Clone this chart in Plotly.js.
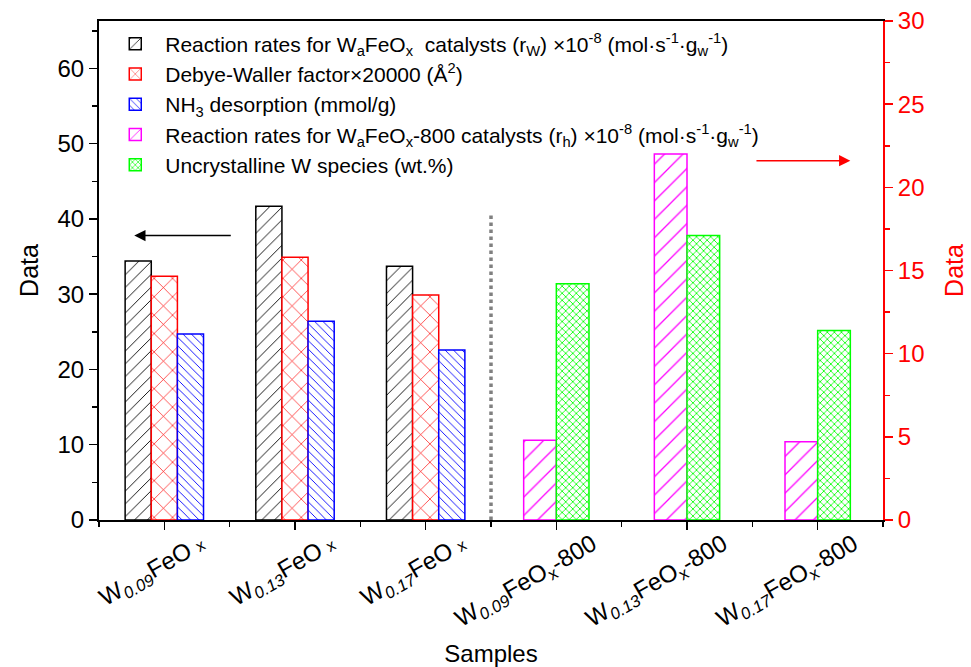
<!DOCTYPE html>
<html>
<head>
<meta charset="utf-8">
<script src="https://cdn.plot.ly/plotly-3.0.1.min.js"></script>
<style>html,body{margin:0;padding:0;background:#fff;}#chart{width:971px;height:667px;}</style>
</head>
<body>
<div id="chart"></div>
<script>
// ---- data ----
const categories = ['W0.09FeOx', 'W0.13FeOx', 'W0.17FeOx', 'W0.09FeOx-800', 'W0.13FeOx-800', 'W0.17FeOx-800'];
const tickLabels = [
  'W<sub><i>0.09</i></sub>FeO <span style="font-size:16px">x</span>',
  'W<sub><i>0.13</i></sub>FeO <span style="font-size:16px">x</span>',
  'W<sub><i>0.17</i></sub>FeO <span style="font-size:16px">x</span>',
  'W<sub><i>0.09</i></sub>FeO<sub>x</sub>-800',
  'W<sub><i>0.13</i></sub>FeO<sub>x</sub>-800',
  'W<sub><i>0.17</i></sub>FeO<sub>x</sub>-800'
];
const freshSamples = ['W0.09FeOx', 'W0.13FeOx', 'W0.17FeOx'];
const calcinedSamples = ['W0.09FeOx-800', 'W0.13FeOx-800', 'W0.17FeOx-800'];
const rateW = [34.4, 41.7, 33.7];          // left axis
const debyeWaller = [32.4, 34.9, 29.9];    // left axis
const nh3Desorption = [24.7, 26.4, 22.6];  // left axis
const rateH = [4.8, 22.0, 4.7];            // right axis
const uncrystallineW = [14.2, 17.1, 11.4]; // right axis

const names = [
  'Reaction rates for W<sub>a</sub>FeO<sub>x</sub>\u00a0 catalysts (r<sub>W</sub>) ×10<sup>-8</sup> (mol·s<sup>-1</sup>·g<sub>w</sub><sup>-1</sup>)',
  'Debye-Waller factor×20000 (Å<sup>2</sup>)',
  'NH<sub>3</sub> desorption (mmol/g)',
  'Reaction rates for W<sub>a</sub>FeO<sub>x</sub>-800 catalysts (r<sub>h</sub>) ×10<sup>-8</sup> (mol·s<sup>-1</sup>·g<sub>w</sub><sup>-1</sup>)',
  'Uncrystalline W species (wt.%)'
];

const idx = arr => arr.map(c => categories.indexOf(c));
const FONT = 'Arial, "Liberation Sans", sans-serif';

function barTrace(name, xs, ys, color, shape, psize, solidity, offset, width, yaxis) {
  return {
    type: 'bar', name: name, x: idx(xs), y: ys, yaxis: yaxis,
    offset: offset, width: width,
    marker: {
      color: 'white',
      line: {color: color, width: 1.5},
      pattern: {shape: shape, fgcolor: color, bgcolor: 'white', size: psize, solidity: solidity, fillmode: 'replace'}
    },
    hoverinfo: 'y'
  };
}

const traces = [
  barTrace(names[0], freshSamples, rateW, '#000000', '/', 9, 0.1, -0.3, 0.2, 'y'),
  barTrace(names[1], freshSamples, debyeWaller, '#ff0000', 'x', 13, 0.1, -0.1, 0.2, 'y'),
  barTrace(names[2], freshSamples, nh3Desorption, '#0000ff', '\\', 6, 0.15, 0.1, 0.2, 'y'),
  barTrace(names[3], calcinedSamples, rateH, '#ff00ff', '/', 13, 0.1, -0.25, 0.25, 'y2'),
  barTrace(names[4], calcinedSamples, uncrystallineW, '#00ff00', 'x', 5, 0.3, 0, 0.25, 'y2')
];

const layout = {
  width: 971, height: 667,
  margin: {l: 99, r: 88, t: 21, b: 147},
  paper_bgcolor: 'white', plot_bgcolor: 'white',
  font: {family: FONT, color: '#000', size: 20},
  barmode: 'overlay',
  showlegend: true,
  legend: {
    x: 0.008, y: 0.995, xanchor: 'left', yanchor: 'top',
    bgcolor: 'rgba(255,255,255,0)', borderwidth: 0,
    font: {family: FONT, size: 21, color: '#000'},
    itemwidth: 50,
    tracegroupgap: 0
  },
  xaxis: {
    range: [-0.5, 5.5],
    tickmode: 'array', tickvals: idx(categories), ticktext: tickLabels,
    tickangle: -30,
    ticklabelshift: 36,
    ticklabelstandoff: -9,
    tickfont: {family: FONT, size: 24, color: '#000'},
    ticks: 'outside', ticklen: 8, tickwidth: 1.5, tickcolor: '#000',
    minor: {tick0: 0.5, dtick: 1, ticks: 'outside', ticklen: 5, tickwidth: 1.5, tickcolor: '#000'},
    showline: true, linecolor: '#000', linewidth: 2, mirror: true,
    showgrid: false, zeroline: false,
    title: {text: 'Samples', font: {family: FONT, size: 24, color: '#000'}, standoff: 12}
  },
  yaxis: {
    range: [0, 66.3],
    tickmode: 'linear', tick0: 0, dtick: 10,
    tickfont: {family: FONT, size: 24, color: '#000'},
    ticks: 'outside', ticklen: 8, tickwidth: 1.5, tickcolor: '#000',
    minor: {dtick: 5, ticks: 'outside', ticklen: 5, tickwidth: 1.5, tickcolor: '#000'},
    showline: true, linecolor: '#000', linewidth: 2,
    showgrid: false, zeroline: false,
    title: {text: 'Data', font: {family: FONT, size: 25, color: '#000'}, standoff: 12}
  },
  yaxis2: {
    overlaying: 'y', side: 'right',
    range: [0, 30],
    tickmode: 'linear', tick0: 0, dtick: 5,
    tickfont: {family: FONT, size: 24, color: '#ff0000'},
    ticks: 'outside', ticklen: 8, tickwidth: 1.5, tickcolor: '#ff0000',
    minor: {dtick: 2.5, ticks: 'outside', ticklen: 5, tickwidth: 1.5, tickcolor: '#ff0000'},
    showline: true, linecolor: '#ff0000', linewidth: 2,
    showgrid: false, zeroline: false,
    title: {text: 'Data', font: {family: FONT, size: 25, color: '#ff0000'}, standoff: 22}
  },
  shapes: [
    {type: 'line', xref: 'x', yref: 'y', x0: 2.5, x1: 2.5, y0: 0, y1: 40.8,
     line: {color: '#808080', width: 3.5, dash: 'dot'}}
  ],
  annotations: [
    {xref: 'x', yref: 'y', axref: 'x', ayref: 'y', x: -0.23, y: 37.8, ax: 0.52, ay: 37.8,
     showarrow: true, arrowhead: 2, arrowsize: 1.5, arrowwidth: 1.5, arrowcolor: '#000', text: ''},
    {xref: 'x', yref: 'y2', axref: 'x', ayref: 'y2', x: 5.25, y: 21.6, ax: 4.52, ay: 21.6,
     showarrow: true, arrowhead: 2, arrowsize: 1.5, arrowwidth: 1.5, arrowcolor: '#ff0000', text: ''}
  ]
};

Plotly.newPlot('chart', traces, layout, {displayModeBar: false, staticPlot: true});
</script>
</body>
</html>
